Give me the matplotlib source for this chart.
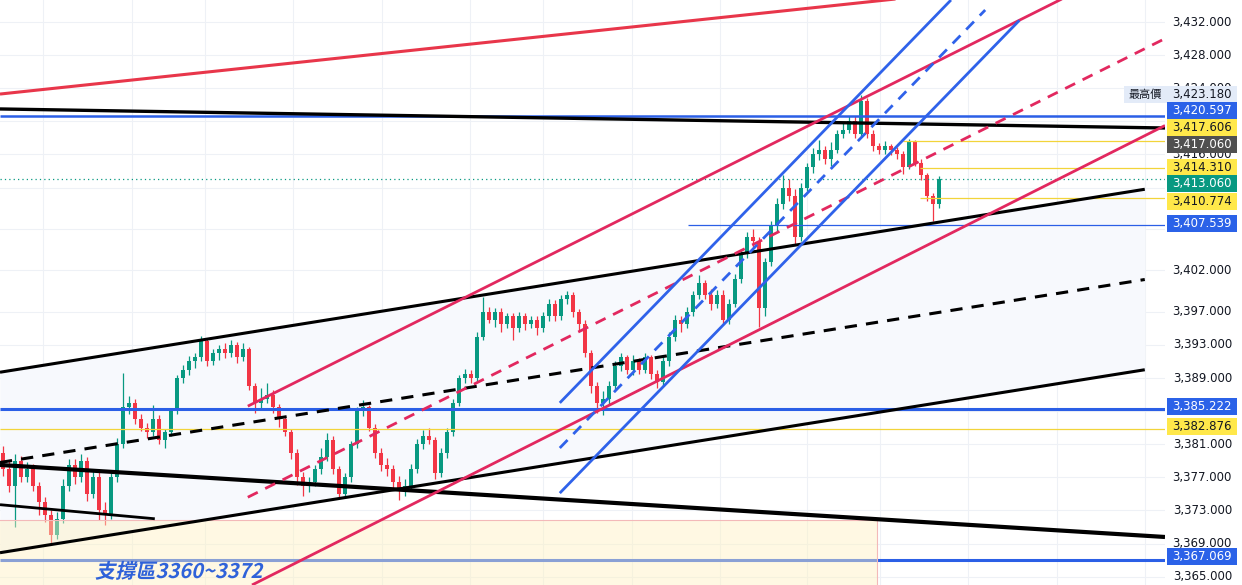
import matplotlib.pyplot as plt
from matplotlib.patches import Rectangle, PathPatch
from matplotlib.textpath import TextPath
from matplotlib.font_manager import FontProperties
from matplotlib.transforms import Affine2D

plt.rcParams['font.family'] = ['DejaVu Sans', 'Noto Sans CJK TC']

# candles, one per bar (bar index = x position)
first_open = 3380.0
closes = [
    3378, 3376, 3379, 3377, 3378, 3376, 3374, 3372.5, 3370, 3372,
    3376, 3378.5, 3377, 3379, 3375, 3377, 3373, 3372.5, 3377, 3381,
    3385.5, 3386, 3384, 3383, 3382.5, 3384, 3381.5, 3382.5, 3385, 3389,
    3390, 3391, 3391.5, 3393.5, 3391, 3392, 3392.5, 3392, 3393, 3391.5,
    3392.5, 3388, 3386, 3386.5, 3387, 3385.5, 3384, 3382.5, 3380, 3377,
    3376, 3376.5, 3378, 3379.5, 3381.5, 3378, 3375, 3377, 3381, 3385,
    3385.5, 3383, 3380, 3378.5, 3378, 3376.5, 3375.5, 3376, 3378, 3381,
    3382, 3381.5, 3377.5, 3380, 3382.5, 3386, 3389, 3389.5, 3389, 3394,
    3397, 3396, 3397, 3395.5, 3396.5, 3395, 3396.5, 3395.5, 3396, 3395,
    3396.5, 3398, 3396.5, 3398.5, 3399, 3397, 3395.5, 3392, 3388, 3386,
    3386.5, 3388, 3390.5, 3391.5, 3390, 3391, 3390, 3391.5, 3389.5, 3388.5,
    3391, 3394, 3396, 3395.5, 3397, 3399, 3400.5, 3399, 3398, 3399,
    3396, 3398, 3401, 3404, 3406, 3405.5, 3397.5, 3403, 3407.5, 3410,
    3412, 3411, 3406, 3412, 3414.5, 3416, 3416.5, 3415.5, 3416.5, 3418.5,
    3419, 3420, 3418.5, 3422.5, 3418.5, 3417, 3416.5, 3417, 3416.5, 3416,
    3414.5, 3417.5, 3415, 3413.5, 3411, 3410, 3413.06,
]
highs = [
    3380.8, 3379, 3379.8, 3379.6, 3378.8, 3378.6, 3376.5, 3374.6, 3373, 3372.8,
    3376.8, 3379.2, 3379.2, 3379.8, 3379.5, 3377.8, 3377.6, 3374, 3377.6, 3381.8,
    3389.6, 3386.8, 3386.5, 3384.6, 3383.6, 3385.8, 3384.5, 3382.9, 3385.4, 3389.4,
    3390.6, 3391.6, 3392, 3394.1, 3393.8, 3392.5, 3393, 3393.2, 3393.6, 3393.4,
    3393.2, 3392.8, 3388.4, 3387.8, 3388.4, 3387.5, 3385.9, 3384.4, 3382.9, 3380.4,
    3377.6, 3377, 3378.5, 3380.5, 3382.4, 3382, 3378.4, 3377.5, 3381.4, 3385.5,
    3386.3, 3385.8, 3383.4, 3380.6, 3379.3, 3378.5, 3377.2, 3376.8, 3378.6, 3381.6,
    3382.7, 3383, 3381.9, 3380.5, 3383, 3386.5, 3389.4, 3390.1, 3390, 3394.6,
    3398.8, 3397.6, 3397.5, 3397.4, 3396.9, 3396.9, 3397, 3396.8, 3396.5, 3396.5,
    3397, 3398.6, 3398.4, 3399, 3399.5, 3399.4, 3397.3, 3396, 3392.4, 3388.5,
    3387.4, 3388.6, 3391, 3392, 3391.8, 3391.8, 3391.4, 3392, 3391.8, 3390,
    3391.5, 3394.6, 3396.6, 3396.5, 3397.6, 3399.5, 3401.5, 3400.9, 3399.8, 3399.6,
    3399.6, 3398.6, 3401.6, 3404.6, 3406.6, 3407, 3406, 3403.5, 3408, 3410.8,
    3413.5, 3413, 3411.8, 3412.5, 3415, 3416.8, 3417.8, 3417, 3417.5, 3418.9,
    3419.8, 3420.6, 3420.6, 3423.18, 3422.8, 3418.9, 3417.4, 3417.6, 3417.3, 3416.9,
    3416.4, 3417.9, 3417.8, 3415.4, 3413.8, 3411.4, 3413.4,
]
lows = [
    3377.2, 3375.2, 3371, 3376.4, 3376.5, 3375.4, 3372.5, 3371.6, 3368.8, 3369.5,
    3371.5, 3375.4, 3376.2, 3376.5, 3374.2, 3374.5, 3371.8, 3371.2, 3372, 3376.5,
    3380.6, 3384.6, 3383.5, 3382.6, 3381.8, 3382, 3381, 3380.6, 3382, 3384.7,
    3388.4, 3389.4, 3390.2, 3391, 3390.4, 3390.6, 3391.2, 3391.4, 3391.5, 3390.8,
    3391, 3387.6, 3384.8, 3385.4, 3386, 3384.8, 3383.1, 3382, 3379.2, 3376.1,
    3374.7, 3375.2, 3375.9, 3377.4, 3379, 3377.4, 3374.5, 3374.5, 3376.5, 3380.6,
    3384.4, 3382.6, 3379.4, 3377.8, 3377.2, 3375.6, 3374.3, 3374.7, 3375.6, 3377.5,
    3380.4, 3381, 3376.8, 3377, 3379.4, 3382, 3385.6, 3388.4, 3388.4, 3388.7,
    3393.6, 3395.6, 3395.2, 3394.6, 3395.1, 3393.6, 3394.6, 3394.8, 3395.1, 3394.2,
    3394.6, 3395.9, 3395.9, 3396, 3398, 3396.4, 3394.8, 3391.5, 3387.2, 3384.8,
    3384.5, 3385.8, 3387.6, 3389.9, 3389.5, 3389.4, 3389.5, 3389.6, 3388.9, 3387.8,
    3388, 3390.5, 3393.5, 3394.6, 3395, 3396.5, 3398.6, 3398.5, 3397.2, 3397.5,
    3395.4, 3395.5, 3397.6, 3400.5, 3403.5, 3404.8, 3395.2, 3396.5, 3402.5, 3406.8,
    3409.4, 3410.4, 3405.2, 3405.5, 3411.6, 3413.8, 3415.3, 3414.8, 3414.6, 3416.2,
    3418, 3418.6, 3418, 3418.2, 3418, 3416.4, 3416, 3416, 3415.9, 3415.4,
    3413.6, 3414.2, 3414.6, 3412.9, 3410.4, 3408, 3409.5,
]
opens = [first_open] + closes[:-1]

# price scale (grid at every tick, labels only where not covered by badges)
y_ticks = [3432, 3428, 3424, 3420, 3416, 3412, 3407, 3402, 3397, 3393,
           3389, 3385, 3381, 3377, 3373, 3369, 3365]
y_labels = [3432, 3428, 3424, 3416, 3402, 3397, 3393, 3389, 3381, 3377,
            3373, 3369, 3365]
grid_bars = [6.7, 21.5, 33.7, 48.3, 63.2, 77.8, 90, 104.8, 119.5, 134,
             146.2, 160.8, 175.7, 190.3]
y_top, y_bottom = 3434.66, 3364.0
x_left, x_right = -0.5, 193.67

# trend lines: (bar0, price0, bar1, price1)
red_top = (-0.5, 3423.3, 150.3, 3434.9)
black_flat = (-0.5, 3421.5, 193.67, 3419.2)
black_ch_upper = (-0.5, 3389.7, 190.3, 3411.8)
black_ch_mid = (-0.5, 3378.8, 190.3, 3400.9)
black_ch_lower = (-0.5, 3367.9, 190.3, 3390.0)
black_down = (-0.5, 3378.5, 193.67, 3369.8)
black_short = (-0.5, 3373.7, 25.3, 3372.0)
red_ch_upper = (40.8, 3385.6, 176.8, 3434.9)
red_ch_mid = (40.8, 3374.6, 193.67, 3430.0)
red_ch_lower = (41.5, 3364.0, 193.67, 3419.5)
blue_ch_upper = (92.8, 3386.0, 158.0, 3434.66)
blue_ch_mid = (92.8, 3380.55, 163.7, 3433.45)
blue_ch_lower = (92.8, 3375.1, 169.4, 3432.2)

# horizontal levels: (price, start bar, colour, width)
h_levels = [
    (3420.597, -0.5, '#2b5fe6', 1.8),
    (3417.606, 150.0, '#f2d43a', 0.9),
    (3414.310, 152.8, '#f2d43a', 0.9),
    (3410.774, 152.8, '#f2d43a', 0.9),
    (3407.539, 114.2, '#2b5fe6', 0.9),
    (3385.222, -0.5, '#2b5fe6', 2.2),
    (3382.876, -0.5, '#f2d43a', 0.9),
    (3367.069, -0.5, '#2b5fe6', 2.2),
]
last_price = 3413.06

support_zone = (-0.5, 145.67, 3350.0, 3371.85)
support_text = '支撐區3360~3372'

# price badges on the right scale: value, background, text colour, shift (px up)
badge_vals = [3423.180, 3420.597, 3417.606, 3417.060, 3414.310, 3413.060,
              3410.774, 3407.539, 3385.222, 3382.876, 3367.069]
badge_bg = ['#e3ebf8', '#2b62e8', '#ffe84a', '#505050', '#ffe84a', '#089981',
            '#ffe84a', '#2b62e8', '#2b62e8', '#ffe84a', '#2b62e8']
badge_fg = ['#131722', 'white', '#131722', 'white', '#131722', 'white',
            '#131722', 'white', 'white', '#131722', 'white']
badge_shift = [0.7, 5.7, 14, 1.4, 1.2, -5, -3.8, 1.4, 2.6, 2, 3]

up_col = '#089981'
down_col = '#f23645'
red_line = '#e8364a'
crimson = '#e2285f'
blue = '#2f62ea'

fig = plt.figure(figsize=(12.42, 5.85), dpi=100)
ax = fig.add_axes([0, 0, 1165 / 1242, 1])
ax.set_xlim(x_left, x_right)
ax.set_ylim(y_bottom, y_top)
for s in ax.spines.values():
    s.set_visible(False)
ax.set_xticks([])
ax.set_yticks([])

# grid
for p in y_ticks:
    ax.axhline(p, color='#eef1f6', lw=0.8, zorder=0)
for b in grid_bars:
    ax.axvline(b, color='#eef1f6', lw=0.8, zorder=0)

# channel background
xs = [black_ch_upper[0], black_ch_upper[2]]
ax.fill_between(xs, [black_ch_lower[1], black_ch_lower[3]],
                [black_ch_upper[1], black_ch_upper[3]],
                color='#f7f9fd', zorder=0.5, lw=0)

# candles
idx = list(range(len(closes)))
cols = [up_col if c >= o else down_col for o, c in zip(opens, closes)]
ax.vlines(idx, lows, highs, colors=cols, lw=0.9, zorder=2)
bottoms = [min(o, c) for o, c in zip(opens, closes)]
heights = [max(abs(c - o), 0.08) for o, c in zip(opens, closes)]
ax.bar(idx, heights, bottom=bottoms, width=0.66, color=cols, lw=0, zorder=2.1)

# horizontal levels
for p, x0, c, w in h_levels:
    ax.plot([x0, x_right], [p, p], color=c, lw=w, zorder=3,
            solid_capstyle='butt')
ax.axhline(last_price, color=up_col, lw=0.9, ls=(0, (1, 2.5)), zorder=3)

# support zone (over candles and the level line, under the drawn trend lines)
zx0, zx1, zp0, zp1 = support_zone
ax.add_patch(Rectangle((zx0, zp0), zx1 - zx0, zp1 - zp0, facecolor='#fff1c2',
                       alpha=0.45, edgecolor='none', zorder=3.5))
ax.plot([zx0, zx1, zx1], [zp1, zp1, zp0], color='#f3b9b9', lw=0.8, zorder=3.5)


def seg(line, color, lw, dashed=False, z=4):
    x0, p0, x1, p1 = line
    kw = dict(color=color, lw=lw, zorder=z, solid_capstyle='butt')
    if dashed:
        kw['dashes'] = (4, 3)
        kw['dash_capstyle'] = 'butt'
    ax.plot([x0, x1], [p0, p1], **kw)


seg(red_top, red_line, 2.2)
seg(black_flat, 'black', 2.4)
seg(black_ch_upper, 'black', 2.2)
seg(black_ch_mid, 'black', 2.2, dashed=True)
seg(black_ch_lower, 'black', 2.2)
seg(black_down, 'black', 3.0)
seg(black_short, 'black', 2.0)
seg(red_ch_upper, crimson, 2.0)
seg(red_ch_mid, crimson, 2.0, dashed=True)
seg(red_ch_lower, crimson, 2.0)
seg(blue_ch_upper, blue, 2.0)
seg(blue_ch_mid, blue, 2.0, dashed=True)
seg(blue_ch_lower, blue, 2.0)

fp = FontProperties(family='Noto Sans CJK TC', weight='bold')
tp = TextPath((0, 0), support_text, size=14.5, prop=fp)
tr = Affine2D().scale(1 / 72).skew_deg(13, 0).translate(0.95, 0.07) + fig.dpi_scale_trans
fig.patches.append(PathPatch(tp, facecolor='#2f62d9', edgecolor='none',
                             transform=tr, zorder=10))

# right price scale
ytr = ax.get_yaxis_transform()
px_per_unit = 585 / (y_top - y_bottom)
for p in y_labels:
    ax.text(1232 / 1165, p, f'{p:,.3f}', transform=ytr, ha='right', va='center',
            fontsize=8.5, color='#131722', clip_on=False, zorder=6)

bw = 70 / 1165
bh = 17 / px_per_unit
for v, bg, fg, sh in zip(badge_vals, badge_bg, badge_fg, badge_shift):
    yc = v + sh / px_per_unit
    ax.add_patch(Rectangle((1167 / 1165, yc - bh / 2), bw, bh, transform=ytr,
                           facecolor=bg, edgecolor='none', clip_on=False,
                           zorder=7))
    ax.text(1232 / 1165, yc, f'{v:,.3f}', transform=ytr, ha='right',
            va='center', fontsize=8.5, color=fg, clip_on=False, zorder=8)

yc = badge_vals[0] + badge_shift[0] / px_per_unit
ax.add_patch(Rectangle((1124 / 1165, yc - bh / 2), 43 / 1165, bh, transform=ytr,
                       facecolor='#e3ebf8', edgecolor='none', clip_on=False,
                       zorder=7))
ax.text(1145 / 1165, yc, '最高價', transform=ytr, ha='center', va='center',
        fontsize=8, color='#131722', family=['Noto Sans CJK TC', 'DejaVu Sans'],
        clip_on=False, zorder=8)

fig.savefig('out.png', dpi=100)
